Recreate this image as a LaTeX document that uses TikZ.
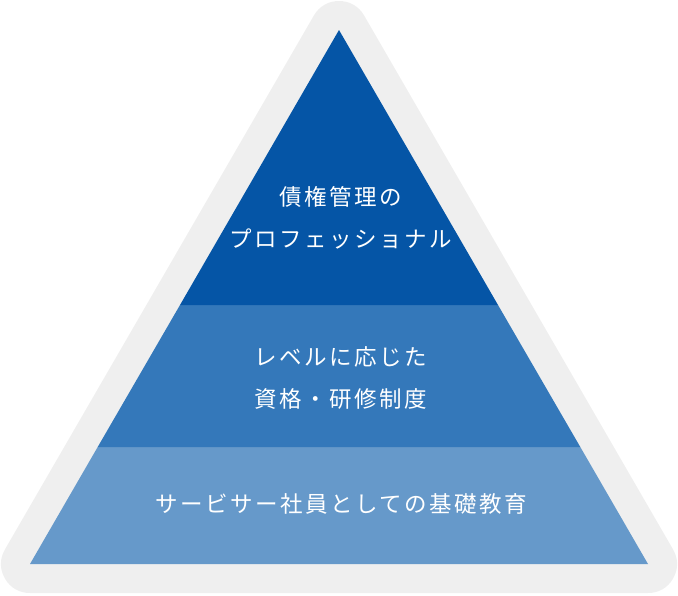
\documentclass[tikz,border=0pt]{standalone}
\usepackage{fontspec}
\usepackage{xcolor}
\usepackage{tikz}
\usetikzlibrary{positioning, calc}
\newfontfamily\jpfont[LetterSpace=11]{Noto Sans CJK JP}
\definecolor{framegray}{HTML}{EFEFEF}
\definecolor{topblue}{HTML}{0555A6}
\definecolor{midblue}{HTML}{3478BA}
\definecolor{basicblue}{HTML}{6699CA}

\begin{document}
\begin{tikzpicture}[x=1pt, y=-1pt,
    tiertext/.style={text=white, font=\jpfont\fontsize{22.5}{42}\selectfont, align=center}]
        \useasboundingbox (0,0) rectangle (678,595);

        % Pyramid corners
        \coordinate (apex) at (339,30);
        \coordinate (baseL) at (30,564);
        \coordinate (baseR) at (648,564);
        \coordinate (midL) at (97.7,447);
        \coordinate (midR) at (580.3,447);
        \coordinate (topL) at (180,305);
        \coordinate (topR) at (498,305);

        % Gray frame
        \draw[framegray, fill=framegray, line width=58pt, line join=round] (apex) -- (baseL) -- (baseR) -- cycle;

        % Bands
        \fill[basicblue] (baseL) -- (baseR) -- (midR) -- (midL) -- cycle;
        \fill[midblue] (midL) -- (midR) -- (topR) -- (topL) -- cycle;
        \fill[topblue] (topL) -- (topR) -- (apex) -- cycle;

        % Labels
        \node[tiertext] (pro) at (341,218) {債権管理の\\プロフェッショナル};
        \node[tiertext] (level) at (341,378) {レベルに応じた\\資格・研修制度};
        \node[tiertext] (basic) at (341,504) {サービサー社員としての基礎教育};
      \end{tikzpicture}
\end{document}
